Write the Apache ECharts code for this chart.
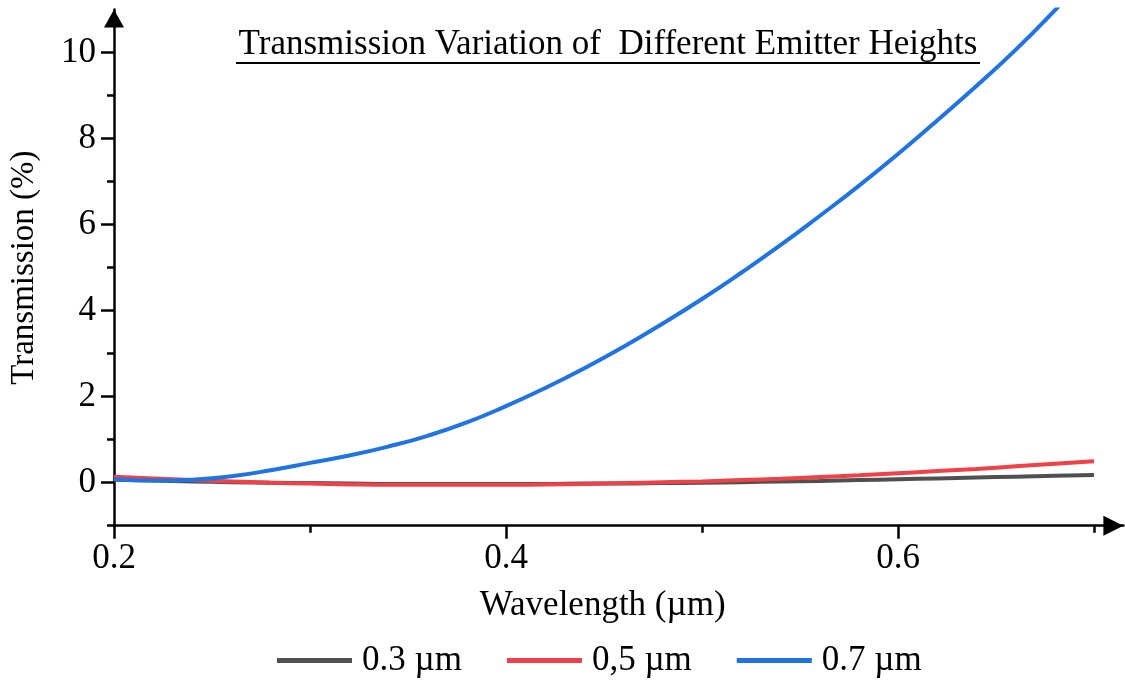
<!DOCTYPE html>
<html>
<head>
<meta charset="utf-8">
<script src="https://cdn.jsdelivr.net/npm/echarts@6/dist/echarts.min.js"></script>
<style>
html,body{margin:0;padding:0;background:#fff;}
#chart{width:1125px;height:682px;}
</style>
</head>
<body>
<div id="chart"></div>
<script>
// ---- data ----
const wavelength = [0.20,0.22,0.24,0.26,0.28,0.30,0.32,0.34,0.36,0.38,0.40,0.42,0.44,0.46,0.48,0.50,0.52,0.54,0.56,0.58,0.60,0.62,0.64,0.66,0.68,0.70];
const h03 = [0.07,0.05,0.03,0.01,0.00,-0.01,-0.02,-0.03,-0.03,-0.03,-0.03,-0.03,-0.02,-0.02,-0.01,0.00,0.01,0.03,0.04,0.06,0.08,0.10,0.12,0.14,0.16,0.18];
const h05 = [0.14,0.10,0.06,0.03,0.00,-0.02,-0.04,-0.05,-0.05,-0.05,-0.05,-0.04,-0.03,-0.01,0.01,0.03,0.06,0.09,0.13,0.17,0.22,0.27,0.32,0.38,0.44,0.50];
const h07 = [0.08,0.05,0.07,0.15,0.29,0.46,0.63,0.84,1.09,1.40,1.78,2.20,2.66,3.16,3.70,4.27,4.88,5.52,6.20,6.90,7.64,8.42,9.22,10.06,10.98,11.95];
const seriesNames = ['0.3 µm','0,5 µm','0.7 µm'];
const xMajorTicks = [0.2,0.4,0.6];
const xMinorTicks = [0.3,0.5,0.7];
const yMajorTicks = [0,2,4,6,8,10];
const yMinorTicks = [-1,1,3,5,7,9];
const titleText = 'Transmission Variation of  Different Emitter Heights';
const xName = 'Wavelength (µm)';
const yName = 'Transmission (%)';

const FONT = "'Liberation Serif','Times New Roman',serif";
const colors = ['#505050','#ef4147','#1f74e2'];
const pairs = arr => wavelength.map((x,i)=>[x,arr[i]]);

const chart = echarts.init(document.getElementById('chart'), null, {renderer:'canvas'});
const axisColor = '#000';
chart.setOption({
  animation:false,
  backgroundColor:'#fff',
  title:{
    text:titleText,
    left:608, top:27, textAlign:'center', padding:0,
    textStyle:{fontFamily:FONT,fontWeight:'normal',fontSize:35,color:'#000'}
  },
  graphic:[{
    type:'line', shape:{x1:236,y1:63,x2:980,y2:63}, style:{stroke:'#000',lineWidth:1.8}
  }],
  legend:{
    left:277, top:643, padding:0, itemWidth:75, itemHeight:5, itemGap:45, icon:'rect',
    data:seriesNames,
    textStyle:{fontFamily:FONT,fontSize:35,color:'#000',padding:[0,0,0,5]}
  },
  grid:{left:113.3, right:1.6, top:9.5, bottom:156.3, containLabel:false},
  xAxis:[{
    type:'value', min:0.2, max:0.715,
    name:xName, nameLocation:'middle', nameGap:63,
    nameTextStyle:{fontFamily:FONT,fontSize:35,color:'#000',padding:[0,32,0,0]},
    axisLine:{show:true,onZero:false,symbol:['none','triangle'],symbolSize:[20,20],symbolOffset:[0,-10],lineStyle:{color:axisColor,width:2.5}},
    axisTick:{show:true,inside:false,length:13,customValues:xMajorTicks,lineStyle:{color:axisColor,width:2.5}},
    axisLabel:{customValues:xMajorTicks,margin:16,fontFamily:FONT,fontSize:35,color:'#000',formatter:v=>v.toFixed(1)},
    splitLine:{show:false}
  },{
    type:'value', min:0.2, max:0.715, position:'bottom', offset:0,
    axisLine:{show:false,onZero:false},
    axisTick:{show:true,inside:false,length:7,customValues:xMinorTicks,lineStyle:{color:axisColor,width:2.5}},
    axisLabel:{show:false},
    splitLine:{show:false}
  }],
  yAxis:[{
    type:'value', min:-1, max:11,
    name:yName, nameLocation:'middle', nameGap:73,
    nameTextStyle:{fontFamily:FONT,fontSize:33,color:'#000'},
    axisLine:{show:true,onZero:false,symbol:['none','triangle'],symbolSize:[20,18],symbolOffset:[0,-9],lineStyle:{color:axisColor,width:2.5}},
    axisTick:{show:true,inside:false,length:13,customValues:yMajorTicks,lineStyle:{color:axisColor,width:2.5}},
    axisLabel:{customValues:yMajorTicks,margin:18,fontFamily:FONT,fontSize:35,color:'#000'},
    splitLine:{show:false}
  },{
    type:'value', min:-1, max:11, position:'left', offset:0,
    axisLine:{show:false,onZero:false},
    axisTick:{show:true,inside:false,length:7,customValues:yMinorTicks,lineStyle:{color:axisColor,width:2.5}},
    axisLabel:{show:false},
    splitLine:{show:false}
  }],
  series:[
    {name:seriesNames[0],type:'line',data:pairs(h03),smooth:true,showSymbol:false,color:colors[0],lineStyle:{width:4,color:colors[0]},xAxisIndex:0,yAxisIndex:0},
    {name:seriesNames[1],type:'line',data:pairs(h05),smooth:true,showSymbol:false,color:colors[1],lineStyle:{width:4,color:colors[1]},xAxisIndex:0,yAxisIndex:0},
    {name:seriesNames[2],type:'line',data:pairs(h07),smooth:true,showSymbol:false,color:colors[2],lineStyle:{width:4,color:colors[2]},xAxisIndex:0,yAxisIndex:0}
  ]
});
</script>
</body>
</html>
